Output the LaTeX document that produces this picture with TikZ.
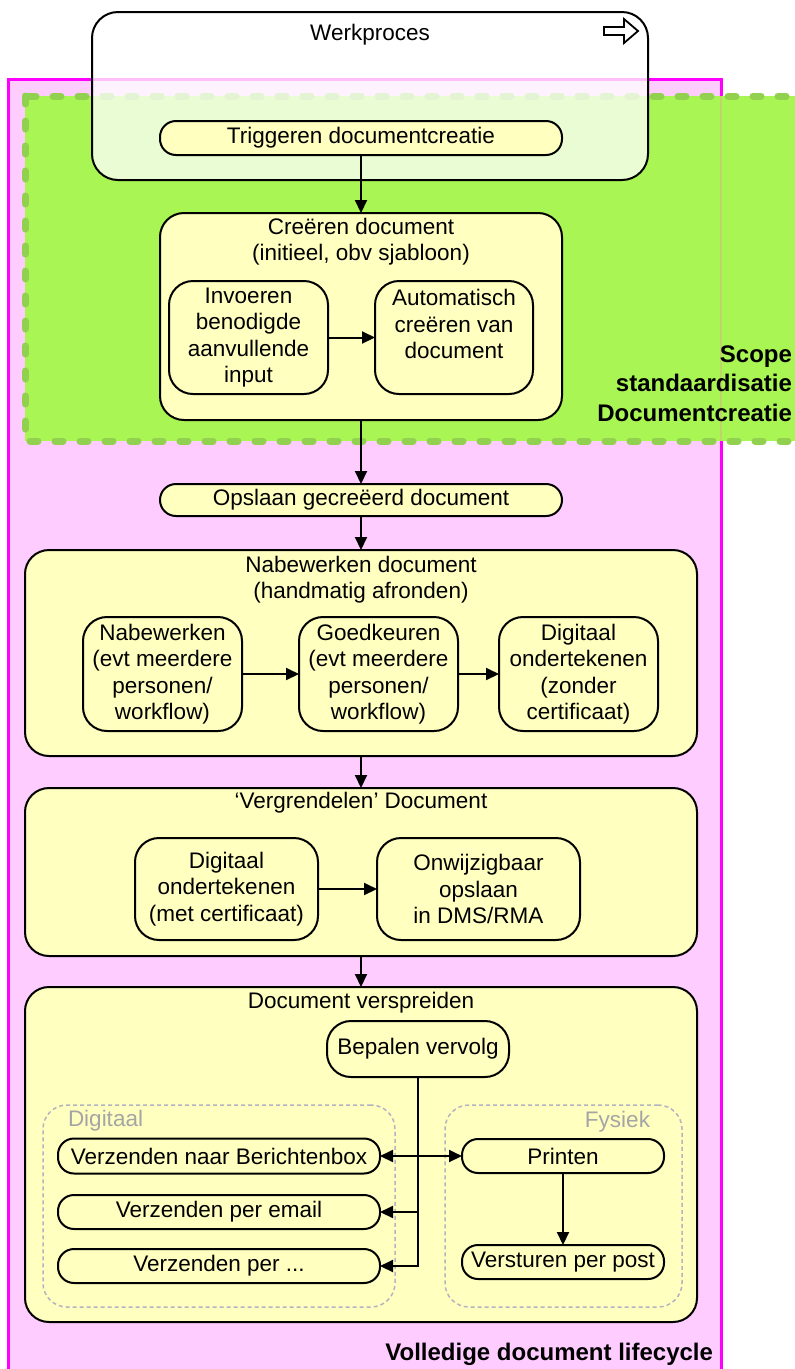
\documentclass[tikz,border=0pt]{standalone}
\usepackage{fontspec}
\setmainfont{Liberation Sans}
\usetikzlibrary{arrows.meta}
\definecolor{pinkfill}{RGB}{255,204,255}
\definecolor{magentaline}{RGB}{255,0,255}
\definecolor{greenfill}{RGB}{168,245,83}
\definecolor{greendash}{RGB}{146,208,80}
\definecolor{olivel}{RGB}{190,214,105}
\definecolor{yel}{RGB}{255,255,192}
\definecolor{grpline}{RGB}{180,180,192}
\definecolor{grptext}{RGB}{165,165,165}
\newcommand{\regfont}{\fontsize{22.5}{26.5}\selectfont}
\newcommand{\bldfont}{\fontsize{24}{29.5}\selectfont\bfseries}
\newcommand{\fstrut}{\rule{0pt}{17pt}}
\tikzset{
  every node/.style={font=\regfont, inner sep=0pt, outer sep=0pt},
  box/.style={draw=black, line width=2pt, fill=yel, rounded corners=24pt, align=center},
  pill/.style={draw=black, line width=2pt, fill=yel, rounded corners=16pt, align=center},
  titletext/.style={anchor=north, align=center},
  grp/.style={draw=grpline, line width=1.5pt, dash pattern=on 4pt off 3pt, rounded corners=24pt},
  arr/.style={line width=2pt, -{Triangle[length=13pt,width=12pt]}},
  arrboth/.style={line width=2pt, {Triangle[length=13pt,width=12pt]}-{Triangle[length=13pt,width=12pt]}},
}
\begin{document}
\begin{tikzpicture}[x=1pt,y=-1pt]
\useasboundingbox (0,0) rectangle (795,1369);
% lifecycle area
\fill[pinkfill] (8,79) rectangle (721,1375);
\draw[magentaline, line width=3pt] (8,1375) -- (8,79) -- (721,79) -- (721,1375);
% scope area
\fill[greenfill] (25,96) rectangle (798,441);
\draw[olivel, line width=2.5pt] (721,96) -- (721,441);
\draw[greendash, line width=7pt, line cap=round, dash pattern=on 8pt off 17pt] (25,96) rectangle (798,441);
% Werkproces
\node[draw=black, line width=2pt, fill=white, fill opacity=0.75, text opacity=1, rounded corners=26pt, minimum width=556pt, minimum height=168pt] (werk) at (370,96) {};
\node[titletext] (werkt) at (370,23) {\fstrut Werkproces};
\draw[line width=1.8pt, fill=white] (604,27) -- (624,27) -- (624,19) -- (638,31) -- (624,43) -- (624,35) -- (604,35) -- cycle;
\node[pill, minimum width=402pt, minimum height=34pt] (trig) at (361,138) {Triggeren documentcreatie};
% Creeren
\node[box, minimum width=402pt, minimum height=207pt] (creeren) at (361,316.5) {};
\node[titletext] (creerent) at (361,217) {\fstrut Creëren document\\(initieel, obv sjabloon)};
\node[box, minimum width=159pt, minimum height=113pt] (invoeren) at (248.5,337.5) {Invoeren\\benodigde\\aanvullende\\input};
\node[box, minimum width=158pt, minimum height=113pt] (auto) at (454,337.5) {Automatisch\\creëren van\\document\\\mbox{}};
\node[anchor=north east, align=right, font=\bldfont] (scope) at (792,344) {\rule{0pt}{18pt}Scope\\standaardisatie\\Documentcreatie};
% Opslaan
\node[pill, minimum width=402pt, minimum height=32pt] (opslaan) at (361,500) {Opslaan gecreëerd document};
% Nabewerken
\node[box, minimum width=672pt, minimum height=206pt] (nabew) at (361,653) {};
\node[titletext] (nabewt) at (361,555) {\fstrut Nabewerken document\\(handmatig afronden)};
\node[box, minimum width=159pt, minimum height=114pt] (nb1) at (162.5,674) {Nabewerken\\(evt meerdere\\personen/\\workflow)};
\node[box, minimum width=159pt, minimum height=114pt] (nb2) at (378.5,674) {Goedkeuren\\(evt meerdere\\personen/\\workflow)};
\node[box, minimum width=159pt, minimum height=114pt] (nb3) at (578.5,674) {Digitaal\\ondertekenen\\(zonder\\certificaat)};
% Vergrendelen
\node[box, minimum width=672pt, minimum height=168pt] (verg) at (361,872) {};
\node[titletext] (vergt) at (361,791) {\fstrut ‘Vergrendelen’ Document};
\node[box, minimum width=183pt, minimum height=102pt] (vg1) at (226.5,889) {Digitaal\\ondertekenen\\(met certificaat)};
\node[box, minimum width=203pt, minimum height=102pt] (vg2) at (478.5,889) {Onwijzigbaar\\opslaan\\in DMS/RMA};
% Verspreiden
\node[box, minimum width=672pt, minimum height=335pt] (versp) at (361,1154.5) {};
\node[titletext] (verspt) at (361,991) {\fstrut Document verspreiden};
\node[pill, rounded corners=24pt, minimum width=182pt, minimum height=56pt] (bepalen) at (418,1049) {Bepalen vervolg};
\node[grp, minimum width=352pt, minimum height=202pt] (digi) at (219,1206) {};
\node[grp, minimum width=237pt, minimum height=202pt] (fys) at (563.5,1206) {};
\node[anchor=base west, text=grptext] (digit) at (68,1126) {Digitaal};
\node[anchor=base east, text=grptext] (fyst) at (650,1127) {Fysiek};
\node[pill, minimum width=322pt, minimum height=35pt] (berichten) at (219,1156) {Verzenden naar Berichtenbox};
\node[pill, minimum width=322pt, minimum height=34pt] (email) at (219,1212) {Verzenden per email};
\node[pill, minimum width=322pt, minimum height=34pt] (per) at (219,1266) {Verzenden per ...};
\node[pill, minimum width=202pt, minimum height=34pt] (printen) at (563,1156) {Printen};
\node[pill, minimum width=202pt, minimum height=34pt] (post) at (563,1262) {Versturen per post};
\node[anchor=base east, font=\bldfont] (lifecycle) at (713,1360) {Volledige document lifecycle};
% connectors
\draw[arr] (trig) -- (creeren);
\draw[arr] (invoeren) -- (auto);
\draw[arr] (creeren) -- (opslaan);
\draw[arr] (opslaan) -- (nabew);
\draw[arr] (nb1) -- (nb2);
\draw[arr] (nb2) -- (nb3);
\draw[arr] (nabew) -- (verg);
\draw[arr] (vg1) -- (vg2);
\draw[arr] (verg) -- (versp);
\draw[arr] (bepalen.south) |- (per.east);
\draw[arrboth] (berichten.east) -- (printen.west);
\draw[arr] (bepalen.south |- email.east) -- (email.east);
\draw[arr] (printen) -- (post);
\end{tikzpicture}
\end{document}
